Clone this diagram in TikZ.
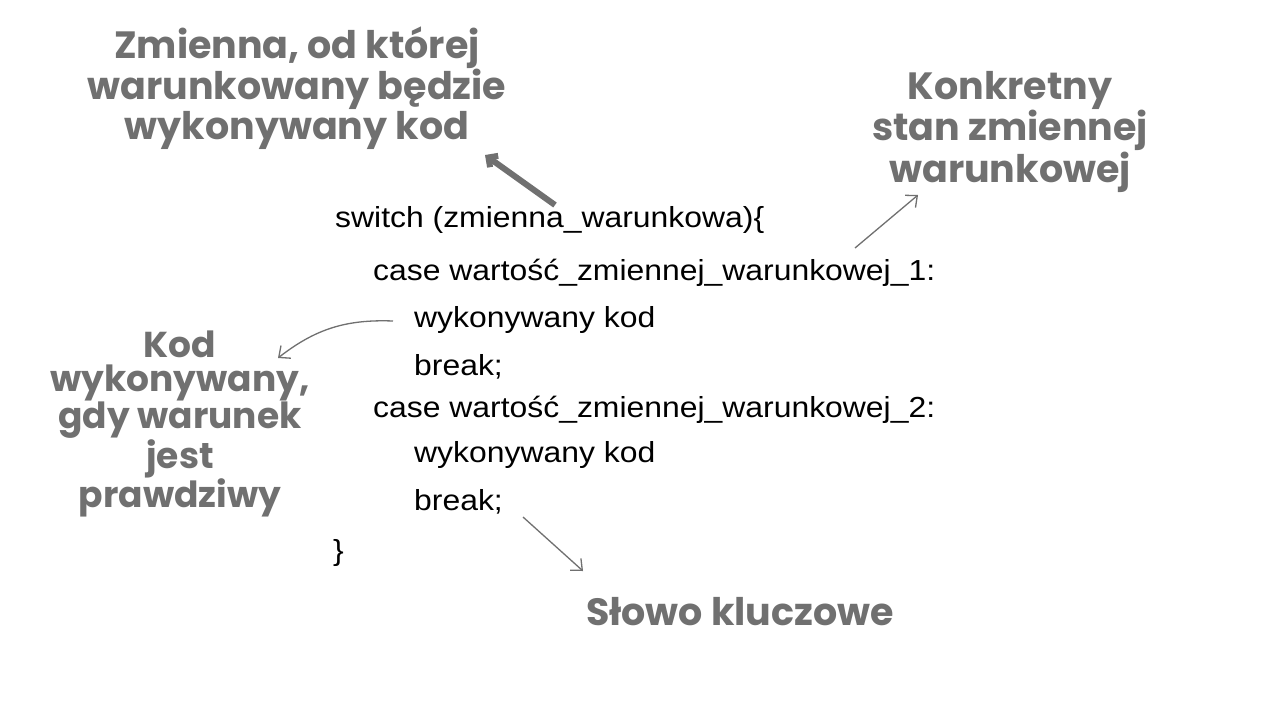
\documentclass[tikz,border=0pt]{standalone}
\usepackage{fontspec}
\usetikzlibrary{arrows.meta}
\setmainfont{Liberation Sans}
\newfontfamily\annfont{Poppins}[UprightFont=* Bold]
\definecolor{ann}{HTML}{707070}
\newcommand{\cl}[1]{\scalebox{1.1}[1]{#1}}
\begin{document}
\begin{tikzpicture}[x=1pt,y=-1pt,
  code/.style={anchor=west,font=\fontsize{29}{32}\selectfont,inner sep=0pt},
  note/.style={align=center,text=ann,font=\annfont\fontsize{38}{33}\selectfont,inner sep=0pt},
  thin/.style={draw=ann,line width=1.3pt,-{Straight Barb[length=9pt,width=16pt]}}]
\fill[white] (0,0) rectangle (1280,720);
\node[code] (l1) at (335,220) {\cl{switch (zmienna\_warunkowa)\{}};
\node[code] (l2) at (373,273) {\cl{case wartość\_zmiennej\_warunkowej\_1:}};
\node[code] (l3) at (414,320) {\cl{wykonywany kod}};
\node[code] (l4) at (414,367) {\cl{break;}};
\node[code] (l5) at (373,410) {\cl{case wartość\_zmiennej\_warunkowej\_2:}};
\node[code] (l6) at (414,455) {\cl{wykonywany kod}};
\node[code] (l7) at (414,502) {\cl{break;}};
\node[code] (l8) at (333,553) {\cl{\}}};
\node[note] (n1) at (297,88) {Zmienna, od której\\warunkowany będzie\\wykonywany kod};
\node[note] (n2) at (1010,132) {Konkretny\\stan zmiennej\\warunkowej};
\node[note,font=\annfont\fontsize{36}{34}\selectfont] (n3) at (180,424) {Kod\\wykonywany,\\gdy warunek\\jest\\prawdziwy};
\node[note] (n4) at (740,612) {Słowo kluczowe};
\coordinate (a1s) at (555,205); \coordinate (a1e) at (485,155);
\draw[draw=ann,line width=6pt,-{Straight Barb[length=7pt,width=14pt]}] (a1s) -- (a1e);
\coordinate (a2s) at (855,248); \coordinate (a2e) at (918,195);
\draw[thin] (a2s) -- (a2e);
\coordinate (a3s) at (393,321); \coordinate (a3e) at (278,358);
\draw[thin] (a3s) to[bend right=20] (a3e);
\coordinate (a4s) at (523,517); \coordinate (a4e) at (583,571);
\draw[thin] (a4s) -- (a4e);
\end{tikzpicture}
\end{document}
